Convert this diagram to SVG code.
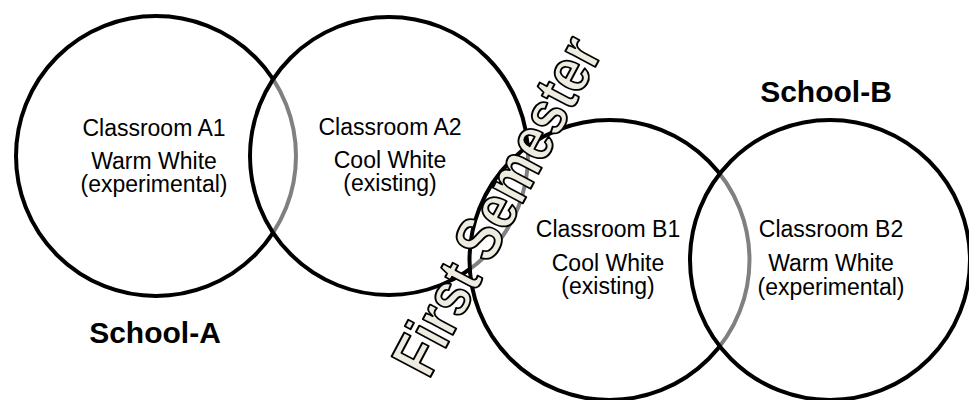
<svg xmlns="http://www.w3.org/2000/svg" width="969" height="400" viewBox="0 0 969 400">
<style>
.c{fill:#fff;fill-opacity:0.5;stroke:#000;stroke-width:4}
.t{font-family:"Liberation Sans",Arial,sans-serif;font-size:23px;text-anchor:middle;fill:#000}
.s{font-family:"Liberation Sans",Arial,sans-serif;font-size:30px;font-weight:bold;text-anchor:middle;fill:#000}
.w{font-family:"Liberation Sans",Arial,sans-serif;font-size:64px;font-weight:bold;text-anchor:middle;fill:#eeece1;stroke:#000;stroke-width:2;stroke-linejoin:round}
</style>
<rect width="969" height="400" fill="#fff"/>
<g id="classroomA1">
<circle class="c" cx="156" cy="156" r="140"/>
<text class="t" x="154" y="136">Classroom A1</text>
<text class="t" x="154" y="169">Warm White</text>
<text class="t" x="154" y="192">(experimental)</text>
</g>
<g id="classroomA2">
<circle class="c" cx="389" cy="156" r="139"/>
<text class="t" x="390" y="135">Classroom A2</text>
<text class="t" x="390" y="168">Cool White</text>
<text class="t" x="390" y="191">(existing)</text>
</g>
<g id="classroomB1">
<circle class="c" cx="609.5" cy="260" r="140"/>
<text class="t" x="608" y="237">Classroom B1</text>
<text class="t" x="608" y="271">Cool White</text>
<text class="t" x="608" y="294">(existing)</text>
</g>
<g id="classroomB2">
<circle class="c" cx="830" cy="260" r="140"/>
<text class="t" x="831" y="237">Classroom B2</text>
<text class="t" x="831" y="271">Warm White</text>
<text class="t" x="831" y="295">(experimental)</text>
</g>
<g id="schoolA"><text class="s" x="155" y="343">School-A</text></g>
<g id="schoolB"><text class="s" x="826" y="102">School-B</text></g>
<g id="connectors"></g>
<g id="firstSemester"><text class="w" transform="translate(516 216) rotate(-62)" textLength="372" lengthAdjust="spacingAndGlyphs">First Semester</text></g>
</svg>
